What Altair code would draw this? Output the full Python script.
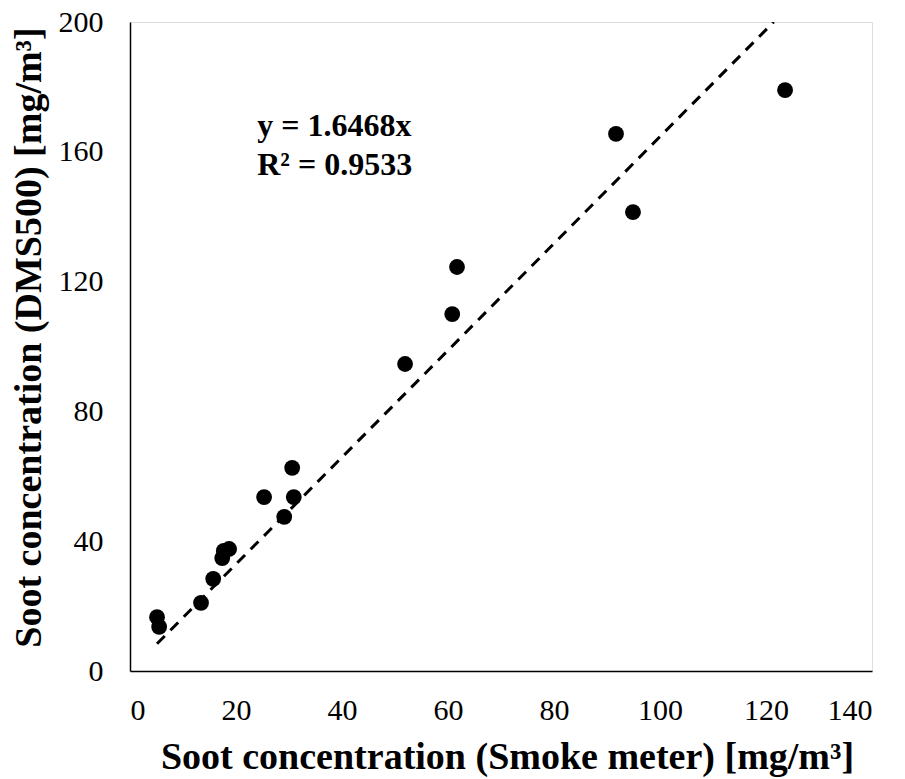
import altair as alt
import pandas as pd

# Data
smoke_meter = [5.1, 5.5, 13.4, 15.7, 17.4, 17.7, 18.7, 25.3, 29.1, 30.6, 30.9,
               51.9, 60.8, 61.7, 91.7, 94.9, 123.6]
dms500 = [16.6, 13.6, 21.0, 28.4, 34.8, 37.0, 37.6, 53.6, 47.5, 62.6, 53.6,
          94.6, 110.0, 124.5, 165.5, 141.4, 179.0]
slope = 1.6468
eq_lines = ["y = 1.6468x", "R² = 0.9533"]
eq_pos_x = 24.0
eq_pos_y = 164.8
x_ticks = [0, 20, 40, 60, 80, 100, 120, 140]
y_ticks = [0, 40, 80, 120, 160, 200]

FONT = "Liberation Serif"
W, H = 742, 649

pts = pd.DataFrame({"x": smoke_meter, "y": dms500})
x_lo = min(smoke_meter)
x_hi = min(max(smoke_meter), 200 / slope)
trend = pd.DataFrame({"x": [x_lo, x_hi], "y": [slope * x_lo, slope * x_hi]})
eq = pd.DataFrame({"t": ["\n".join(eq_lines)], "x": [eq_pos_x], "y": [eq_pos_y]})

xscale = alt.Scale(domain=[0, 140], nice=False, zero=False)
yscale = alt.Scale(domain=[0, 200], nice=False, zero=False)

xaxis = alt.Axis(values=x_ticks, title="Soot concentration (Smoke meter) [mg/m³]",
                 grid=False, ticks=False, tickSize=0, domainColor="black", domainWidth=1.5,
                 labelFont=FONT, labelFontSize=30, labelColor="black", labelPadding=48,
                 labelBaseline="alphabetic",
                 titleFont=FONT, titleFontSize=38, titleFontWeight="bold", titleColor="black",
                 titleX=377, titleY=97, titleAlign="center", titleBaseline="alphabetic")
yaxis = alt.Axis(values=y_ticks, title="Soot concentration (DMS500) [mg/m³]",
                 grid=False, ticks=False, tickSize=0, domainColor="black", domainWidth=1.5,
                 labelFont=FONT, labelFontSize=30, labelColor="black", labelPadding=27,
                 labelAlign="right", labelBaseline="middle",
                 titleFont=FONT, titleFontSize=38, titleFontWeight="bold", titleColor="black",
                 titleX=-90, titleY=315, titleAlign="center", titleBaseline="alphabetic",
                 titleAngle=270)

points = alt.Chart(pts).mark_circle(size=250, color="black", opacity=1).encode(
    x=alt.X("x:Q", scale=xscale, axis=xaxis),
    y=alt.Y("y:Q", scale=yscale, axis=yaxis),
)

line = alt.Chart(trend).mark_line(color="black", strokeWidth=3, strokeDash=[11, 8], clip=True).encode(
    x=alt.X("x:Q", scale=xscale),
    y=alt.Y("y:Q", scale=yscale),
)

text = alt.Chart(eq).mark_text(font=FONT, fontSize=32, fontWeight="bold", align="left",
                               baseline="alphabetic", color="black", lineBreak="\n",
                               lineHeight=39).encode(
    x=alt.X("x:Q", scale=xscale),
    y=alt.Y("y:Q", scale=yscale),
    text="t:N",
)

chart = alt.layer(line, points, text).properties(
    width=W, height=H,
    autosize=alt.AutoSizeParams(type="none"),
    padding={"left": 130, "top": 22, "right": 905 - 130 - W, "bottom": 779 - 22 - H},
).configure_view(stroke=None).configure(background="white", font=FONT).configure_axis(
    labelFont=FONT, titleFont=FONT
)

chart.save("out.html", embed_options={"renderer": "svg", "actions": False})
